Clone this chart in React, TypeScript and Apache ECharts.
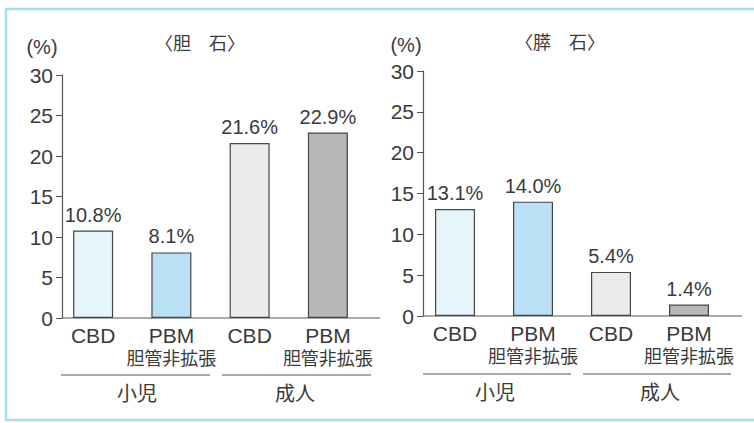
import React, { useEffect, useRef } from "react";
import * as echarts from "echarts";

// Categories on each panel's x axis
const categories = ["CBD", "PBM\n胆管非拡張", "CBD", "PBM\n胆管非拡張"];
// Gallstone rate (%)
const gallstoneValues = [10.8, 8.1, 21.6, 22.9];
// Pancreatic stone rate (%)
const pancreaticValues = [13.1, 14.0, 5.4, 1.4];
// Bar fills: child CBD, child PBM, adult CBD, adult PBM
const barColors = ["#e6f5fc", "#b9e0f5", "#ebebeb", "#b7b7b7"];
// Group names under the categories
const groupLabels = ["小児", "成人"];
const panelTitles = ["〈胆　石〉", "〈膵　石〉"];
const yTicks = { min: 0, max: 30, interval: 5 };

const FONT = "'Liberation Sans', Arial, 'Noto Sans CJK JP', sans-serif";
const INK = "#3a3a3a";
const AXIS = "#555";

export default function App() {
  const ref = useRef<HTMLDivElement>(null);

  useEffect(() => {
    if (!ref.current) return;
    const chart = echarts.init(ref.current, null, { renderer: "svg" });

    const makeData = (vals: number[]) =>
      vals.map((v, i) => ({
        value: v,
        itemStyle: { color: barColors[i] },
      }));

    const yAxisBase = (gridIndex: number, offset: number) => ({
      type: "value" as const,
      gridIndex,
      min: yTicks.min,
      max: yTicks.max,
      interval: yTicks.interval,
      offset,
      axisLine: { show: true, lineStyle: { color: AXIS, width: 1.2 } },
      axisTick: { show: true, length: 6, lineStyle: { color: AXIS, width: 1 } },
      splitLine: { show: false },
      axisLabel: {
        fontSize: 21,
        color: INK,
        fontFamily: FONT,
        margin: 9,
      },
    });

    // latin first line and CJK second line use different sizes
    const xAxisBase = (gridIndex: number) => ({
      type: "category" as const,
      gridIndex,
      data: categories,
      axisLine: { show: false },
      axisTick: { show: false },
      axisLabel: {
        interval: 0,
        color: INK,
        fontFamily: FONT,
        margin: 5,
        formatter: (v: string) =>
          v
            .split("\n")
            .map((s, i) => (i === 0 ? `{a|${s}}` : `{b|${s}}`))
            .join("\n"),
        rich: {
          a: { fontSize: 21, lineHeight: 24, color: INK, fontFamily: FONT },
          b: { fontSize: 18, lineHeight: 24, color: INK, fontFamily: FONT },
        },
      },
    });

    const barSeries = (idx: number, vals: number[]) => ({
      type: "bar" as const,
      xAxisIndex: idx,
      yAxisIndex: idx,
      barWidth: 40,
      data: makeData(vals),
      itemStyle: { borderColor: "#454545", borderWidth: 1.2 },
      label: {
        show: true,
        position: "top" as const,
        distance: 6,
        formatter: (p: any) => `${Number(p.value).toFixed(1)}%`,
        fontSize: 20,
        color: INK,
        fontFamily: FONT,
      },
    });

    const text = (x: number, y: number, t: string, size = 20, align = "center") => ({
      type: "text" as const,
      x,
      y,
      style: {
        text: t,
        fontSize: size,
        fontFamily: FONT,
        fill: INK,
        align,
        verticalAlign: "middle",
      },
    });

    const line = (x1: number, y1: number, x2: number, y2: number, w = 1) => ({
      type: "line" as const,
      shape: { x1, y1, x2, y2 },
      style: { stroke: AXIS, lineWidth: w },
    });

    chart.setOption({
      animation: false,
      backgroundColor: "#ffffff",
      grid: [
        { left: 54, top: 75, width: 313, height: 243 },
        { left: 416, top: 71, width: 312, height: 245 },
      ],
      xAxis: [xAxisBase(0), xAxisBase(1)],
      yAxis: [yAxisBase(0, -8), yAxisBase(1, -7)],
      series: [barSeries(0, gallstoneValues), barSeries(1, pancreaticValues)],
      graphic: [
        // frame
        {
          type: "rect",
          shape: { x: 6, y: 9, width: 800, height: 411 },
          style: { fill: "none", stroke: "#a9dcf1", lineWidth: 2.5 },
          silent: true,
        },
        // baselines
        line(62, 318, 380, 318, 1.2),
        line(423, 316, 742, 316, 1.2),
        // titles and units
        text(42, 47, "(%)", 20),
        text(200, 44, panelTitles[0], 18),
        text(406, 45, "(%)", 20),
        text(560, 43, panelTitles[1], 18),
        // group brackets
        line(61, 375, 210, 375),
        line(222, 375, 371, 375),
        line(423, 374, 571, 374),
        line(583, 374, 731, 374),
        text(137, 394, groupLabels[0]),
        text(295, 394, groupLabels[1]),
        text(495, 393, groupLabels[0]),
        text(660, 393, groupLabels[1]),
      ],
    });

    return () => chart.dispose();
  }, []);

  return (
    <div
      ref={ref}
      style={{ position: "absolute", left: 0, top: 0, width: 754, height: 423 }}
    />
  );
}
